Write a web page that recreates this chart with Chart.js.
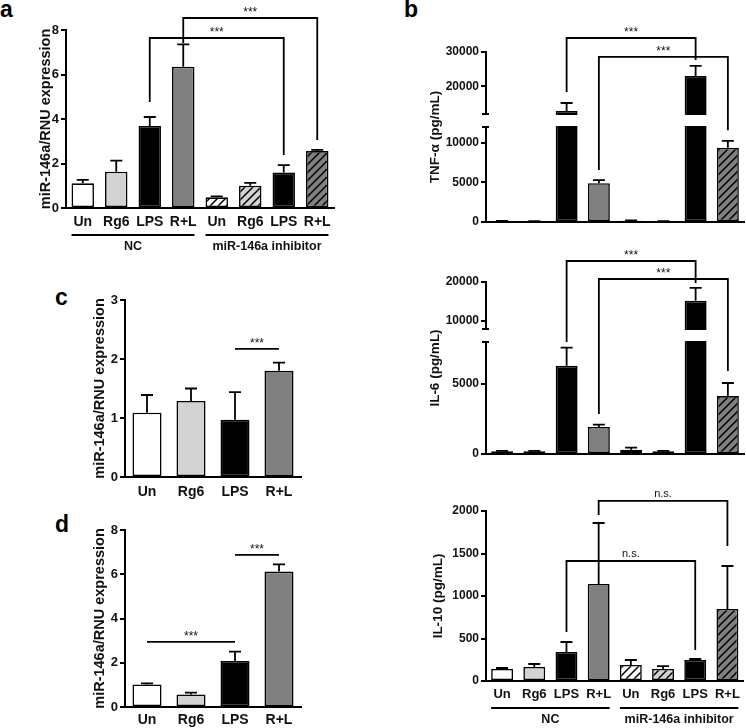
<!DOCTYPE html>
<html>
<head>
<meta charset="utf-8">
<script src="https://cdn.jsdelivr.net/npm/chart.js@4.4.1/dist/chart.umd.min.js"></script>
<style>
  body { margin: 0; background: #fff; width: 746px; height: 728px; position: relative; overflow: hidden; font-family: "Liberation Sans", Arial, sans-serif; }
  .box { position: absolute; }
  .letter { position: absolute; font-weight: bold; font-size: 23px; line-height: 1; color: #000; }
</style>
</head>
<body>
<div class="letter" style="left:0px;top:-2px">a</div>
<div class="letter" style="left:404px;top:-2px">b</div>
<div class="letter" style="left:55px;top:286px">c</div>
<div class="letter" style="left:55px;top:513px">d</div>

<div class="box" style="left:0;top:0;width:373px;height:262px"><canvas id="chartA"></canvas></div>
<div class="box" style="left:0;top:262px;width:373px;height:240px"><canvas id="chartC"></canvas></div>
<div class="box" style="left:0;top:502px;width:373px;height:226px"><canvas id="chartD"></canvas></div>
<div class="box" style="left:373px;top:0;width:373px;height:232px"><canvas id="chartTnf"></canvas></div>
<div class="box" style="left:373px;top:232px;width:373px;height:236px"><canvas id="chartIl6"></canvas></div>
<div class="box" style="left:373px;top:468px;width:373px;height:260px"><canvas id="chartIl10"></canvas></div>

<script>
(function () {
  "use strict";

  const labels8 = ["Un", "Rg6", "LPS", "R+L", "Un", "Rg6", "LPS", "R+L"];
  const labels4 = ["Un", "Rg6", "LPS", "R+L"];
  const groupNames = ["NC", "miR-146a inhibitor"];

  // a: miR-146a, NC vs inhibitor
  const miRTransMean = [1.11, 1.63, 3.69, 6.35, 0.48, 1.0, 1.59, 2.56];
  const miRTransErr = [0.15, 0.5, 0.4, 1.0, 0.04, 0.13, 0.34, 0.05];
  const ticksA = [0, 2, 4, 6, 8];
  const sigA = [
    { from: 2, to: 6, top: 7.64, left: 4.76, right: 2.38, text: "***" },
    { from: 3, to: 7, top: 8.54, left: 7.42, right: 3.06, text: "***" }
  ];

  // c
  const miRcMean = [1.09, 1.29, 0.97, 1.8];
  const miRcErr = [0.3, 0.21, 0.47, 0.14];
  const ticksC = [0, 1, 2, 3];
  const sigC = [{ from: 2, to: 3, top: 2.17, left: 2.17, right: 2.17, text: "***" }];

  // d
  const miRdMean = [1.02, 0.57, 2.08, 6.12];
  const miRdErr = [0.05, 0.08, 0.42, 0.33];
  const ticksD = [0, 2, 4, 6, 8];
  const sigD = [
    { from: 0, to: 2, top: 2.94, left: 2.94, right: 2.94, text: "***" },
    { from: 2, to: 3, top: 6.88, left: 6.88, right: 6.88, text: "***" }
  ];

  // b: cytokines (pg/mL)
  const tnfMean = [120, 100, 12900, 4900, 150, 100, 23000, 9370];
  const tnfErr = [30, 20, 2300, 400, 40, 20, 3000, 880];
  const ticksTnf = [0, 5000, 10000, 20000, 30000];
  const sigTnf = [
    { from: 2, to: 6, top: 34070, left: 18400, right: 27700, text: "***" },
    { from: 3, to: 7, top: 28570, left: 6570, right: 11600, text: "***" }
  ];

  const il6Mean = [200, 200, 6300, 1930, 300, 200, 15200, 4140];
  const il6Err = [30, 20, 1300, 170, 150, 30, 3300, 930];
  const ticksIl6 = [0, 5000, 10000, 20000];
  const sigIl6 = [
    { from: 2, to: 6, top: 25360, left: 8000, right: 19730, text: "***" },
    { from: 3, to: 7, top: 20760, left: 2860, right: 5930, text: "***" }
  ];

  const il10Mean = [141, 165, 341, 1141, 188, 141, 247, 847];
  const il10Err = [12, 35, 118, 718, 59, 35, 12, 506];
  const ticksIl10 = [0, 500, 1000, 1500, 2000];
  const sigIl10 = [
    { from: 3, to: 7, top: 2118, left: 1953, right: 1588, text: "n.s." },
    { from: 2, to: 6, top: 1412, left: 576, right: 365, text: "n.s." }
  ];

  const FONT = "'Liberation Sans', Arial, sans-serif";
  const white = "#ffffff", light = "#d3d3d3", black = "#000000", gray = "#808080";

  function hatch(bg) {
    const c = document.createElement("canvas");
    c.width = 8; c.height = 8;
    const g = c.getContext("2d");
    g.fillStyle = bg;
    g.fillRect(0, 0, 8, 8);
    g.strokeStyle = "#000";
    g.lineWidth = 1.5;
    g.beginPath();
    g.moveTo(0, 8); g.lineTo(8, 0);
    g.moveTo(-2, 2); g.lineTo(2, -2);
    g.moveTo(6, 10); g.lineTo(10, 6);
    g.stroke();
    return g.createPattern(c, "repeat");
  }

  const fills8 = [white, light, black, gray, hatch(white), hatch(light), black, hatch(gray)];
  const fills4 = [white, light, black, gray];

  // broken y axis: lower part [0, at] takes `low` of the height, then a gap
  const breaks = {
    chartTnf: { at: 12000, low: 95 / 170, gap: 13 / 170 },
    chartIl6: { at: 8000, low: 112 / 172, gap: 13 / 172 }
  };

  class BrokenScale extends Chart.LinearScale {
    getPixelForValue(value) {
      if (value === null || value === undefined || isNaN(value)) return NaN;
      const b = breaks[this.chart.canvas.id];
      let dec;
      if (value <= b.at) dec = (value - this.min) / (b.at - this.min) * b.low;
      else dec = b.low + b.gap + (value - b.at) / (this.max - b.at) * (1 - b.low - b.gap);
      return this.getPixelForDecimal(dec);
    }
    getValueForPixel(pixel) {
      const b = breaks[this.chart.canvas.id];
      const dec = this.getDecimalForPixel(pixel);
      if (dec <= b.low) return this.min + dec / b.low * (b.at - this.min);
      return b.at + (dec - b.low - b.gap) / (1 - b.low - b.gap) * (this.max - b.at);
    }
  }
  BrokenScale.id = "broken";
  BrokenScale.defaults = Chart.LinearScale.defaults;
  Chart.register(BrokenScale);

  function decor(o) {
    return {
      id: "decor",
      afterDatasetsDraw(chart) {
        const ctx = chart.ctx, xs = chart.scales.x, ys = chart.scales.y, area = chart.chartArea;
        const bars = chart.getDatasetMeta(0).data;
        ctx.save();
        ctx.strokeStyle = "#000";
        ctx.lineWidth = 1.8;

        // error bars (upper whisker only)
        o.err.forEach(function (e, i) {
          const b = bars[i];
          const top = ys.getPixelForValue(o.mean[i] + e);
          ctx.beginPath();
          ctx.moveTo(b.x, b.y); ctx.lineTo(b.x, top);
          ctx.moveTo(b.x - 6, top); ctx.lineTo(b.x + 6, top);
          ctx.stroke();
        });

        // axis break
        const brk = breaks[chart.canvas.id];
        if (brk) {
          const lowTop = ys.getPixelForValue(brk.at);
          const upBottom = ys.getPixelForDecimal(brk.low + brk.gap);
          ctx.fillStyle = "#fff";
          ctx.fillRect(area.left - 2, upBottom + 1, area.right - area.left + 4, lowTop - upBottom - 2);
          ctx.lineWidth = 2;
          ctx.beginPath();
          ctx.moveTo(area.left - 4, lowTop); ctx.lineTo(area.left + 3, lowTop);
          ctx.moveTo(area.left - 4, upBottom); ctx.lineTo(area.left + 3, upBottom);
          ctx.stroke();
        }

        // significance brackets
        ctx.lineWidth = 1.8;
        ctx.fillStyle = "#111";
        ctx.textAlign = "center";
        ctx.textBaseline = "alphabetic";
        o.sig.forEach(function (s) {
          const x1 = xs.getPixelForValue(s.from), x2 = xs.getPixelForValue(s.to);
          const yt = ys.getPixelForValue(s.top);
          ctx.beginPath();
          ctx.moveTo(x1, ys.getPixelForValue(s.left));
          ctx.lineTo(x1, yt);
          ctx.lineTo(x2, yt);
          ctx.lineTo(x2, ys.getPixelForValue(s.right));
          ctx.stroke();
          const ns = s.text === "n.s.";
          ctx.font = (ns ? "11px " : "12px ") + FONT;
          ctx.fillText(s.text, (x1 + x2) / 2, yt - (ns ? 4 : 2));
        });

        // group underlines
        if (o.groups) {
          ctx.font = "bold 12.5px " + FONT;
          ctx.textBaseline = "middle";
          ctx.lineWidth = 1.8;
          o.groups.forEach(function (name, g) {
            const first = bars[g * 4], last = bars[g * 4 + 3];
            const xl = first.x - first.width / 2, xr = last.x + last.width / 2;
            const ly = area.bottom + 27;
            ctx.beginPath();
            ctx.moveTo(xl, ly); ctx.lineTo(xr, ly);
            ctx.stroke();
            ctx.fillText(name, (xl + xr) / 2, area.bottom + 39);
          });
        }
        ctx.restore();
      }
    };
  }

  function makeChart(id, o) {
    return new Chart(document.getElementById(id), {
      type: "bar",
      data: {
        labels: o.labels,
        datasets: [{
          data: o.mean,
          backgroundColor: o.fills,
          borderColor: "#000",
          borderWidth: 1.6,
          borderSkipped: false,
          barPercentage: o.barPct,
          categoryPercentage: 1
        }]
      },
      options: {
        responsive: true,
        maintainAspectRatio: false,
        animation: false,
        layout: { padding: o.pad },
        plugins: { legend: { display: false }, tooltip: { enabled: false } },
        scales: {
          x: {
            grid: { display: false, drawTicks: false },
            border: { display: true, color: "#000", width: 2 },
            ticks: {
              display: o.showX,
              color: "#111",
              font: { family: FONT, weight: "bold", size: o.xSize },
              padding: o.xPad,
              autoSkip: false,
              maxRotation: 0
            },
            afterFit: function (s) { s.height = o.xHeight; }
          },
          y: {
            type: breaks[id] ? "broken" : "linear",
            min: 0,
            max: o.ticks[o.ticks.length - 1],
            grid: { display: true, drawOnChartArea: false, drawTicks: true, tickLength: 5, color: "#000", lineWidth: 2 },
            border: { display: true, color: "#000", width: 2 },
            ticks: {
              color: "#111",
              font: { family: FONT, weight: "bold", size: o.ySize },
              padding: 2,
              callback: function (v) { return String(v); }
            },
            afterBuildTicks: function (s) { s.ticks = o.ticks.map(function (v) { return { value: v }; }); },
            afterFit: function (s) { s.width = o.yWidth; },
            title: {
              display: true,
              text: o.title,
              color: "#111",
              font: { family: FONT, weight: "bold", size: o.titleSize },
              padding: { top: o.titlePad, bottom: 0 }
            }
          }
        }
      },
      plugins: [decor(o)]
    });
  }

  makeChart("chartA", {
    labels: labels8, mean: miRTransMean, err: miRTransErr, fills: fills8, ticks: ticksA, sig: sigA,
    groups: groupNames, title: "miR-146a/RNU expression", barPct: 0.67,
    pad: { top: 30, right: 39, bottom: 28, left: 0 }, yWidth: 66, xHeight: 26, xPad: 6,
    showX: true, xSize: 14, ySize: 13, titleSize: 14.5, titlePad: 37
  });

  makeChart("chartC", {
    labels: labels4, mean: miRcMean, err: miRcErr, fills: fills4, ticks: ticksC, sig: sigC,
    title: "miR-146a/RNU expression", barPct: 0.66,
    pad: { top: 38, right: 72, bottom: 0, left: 0 }, yWidth: 125, xHeight: 25, xPad: 7,
    showX: true, xSize: 14, ySize: 13, titleSize: 14.5, titlePad: 91
  });

  makeChart("chartD", {
    labels: labels4, mean: miRdMean, err: miRdErr, fills: fills4, ticks: ticksD, sig: sigD,
    title: "miR-146a/RNU expression", barPct: 0.66,
    pad: { top: 28, right: 72, bottom: 0, left: 0 }, yWidth: 125, xHeight: 21, xPad: 5,
    showX: true, xSize: 14, ySize: 13, titleSize: 14.5, titlePad: 91
  });

  makeChart("chartTnf", {
    labels: labels8, mean: tnfMean, err: tnfErr, fills: fills8, ticks: ticksTnf, sig: sigTnf,
    title: "TNF-\u03b1 (pg/mL)", barPct: 0.68,
    pad: { top: 52, right: 2, bottom: 10, left: 0 }, yWidth: 113, xHeight: 0, xPad: 0,
    showX: false, xSize: 13, ySize: 12, titleSize: 13.5, titlePad: 54
  });

  makeChart("chartIl6", {
    labels: labels8, mean: il6Mean, err: il6Err, fills: fills8, ticks: ticksIl6, sig: sigIl6,
    title: "IL-6 (pg/mL)", barPct: 0.68,
    pad: { top: 50, right: 2, bottom: 14, left: 0 }, yWidth: 113, xHeight: 0, xPad: 0,
    showX: false, xSize: 13, ySize: 12, titleSize: 13.5, titlePad: 54
  });

  makeChart("chartIl10", {
    labels: labels8, mean: il10Mean, err: il10Err, fills: fills8, ticks: ticksIl10, sig: sigIl10,
    groups: groupNames, title: "IL-10 (pg/mL)", barPct: 0.68,
    pad: { top: 43, right: 2, bottom: 27, left: 0 }, yWidth: 113, xHeight: 20, xPad: 6,
    showX: true, xSize: 13, ySize: 12, titleSize: 13.5, titlePad: 57
  });
})();
</script>
</body>
</html>
